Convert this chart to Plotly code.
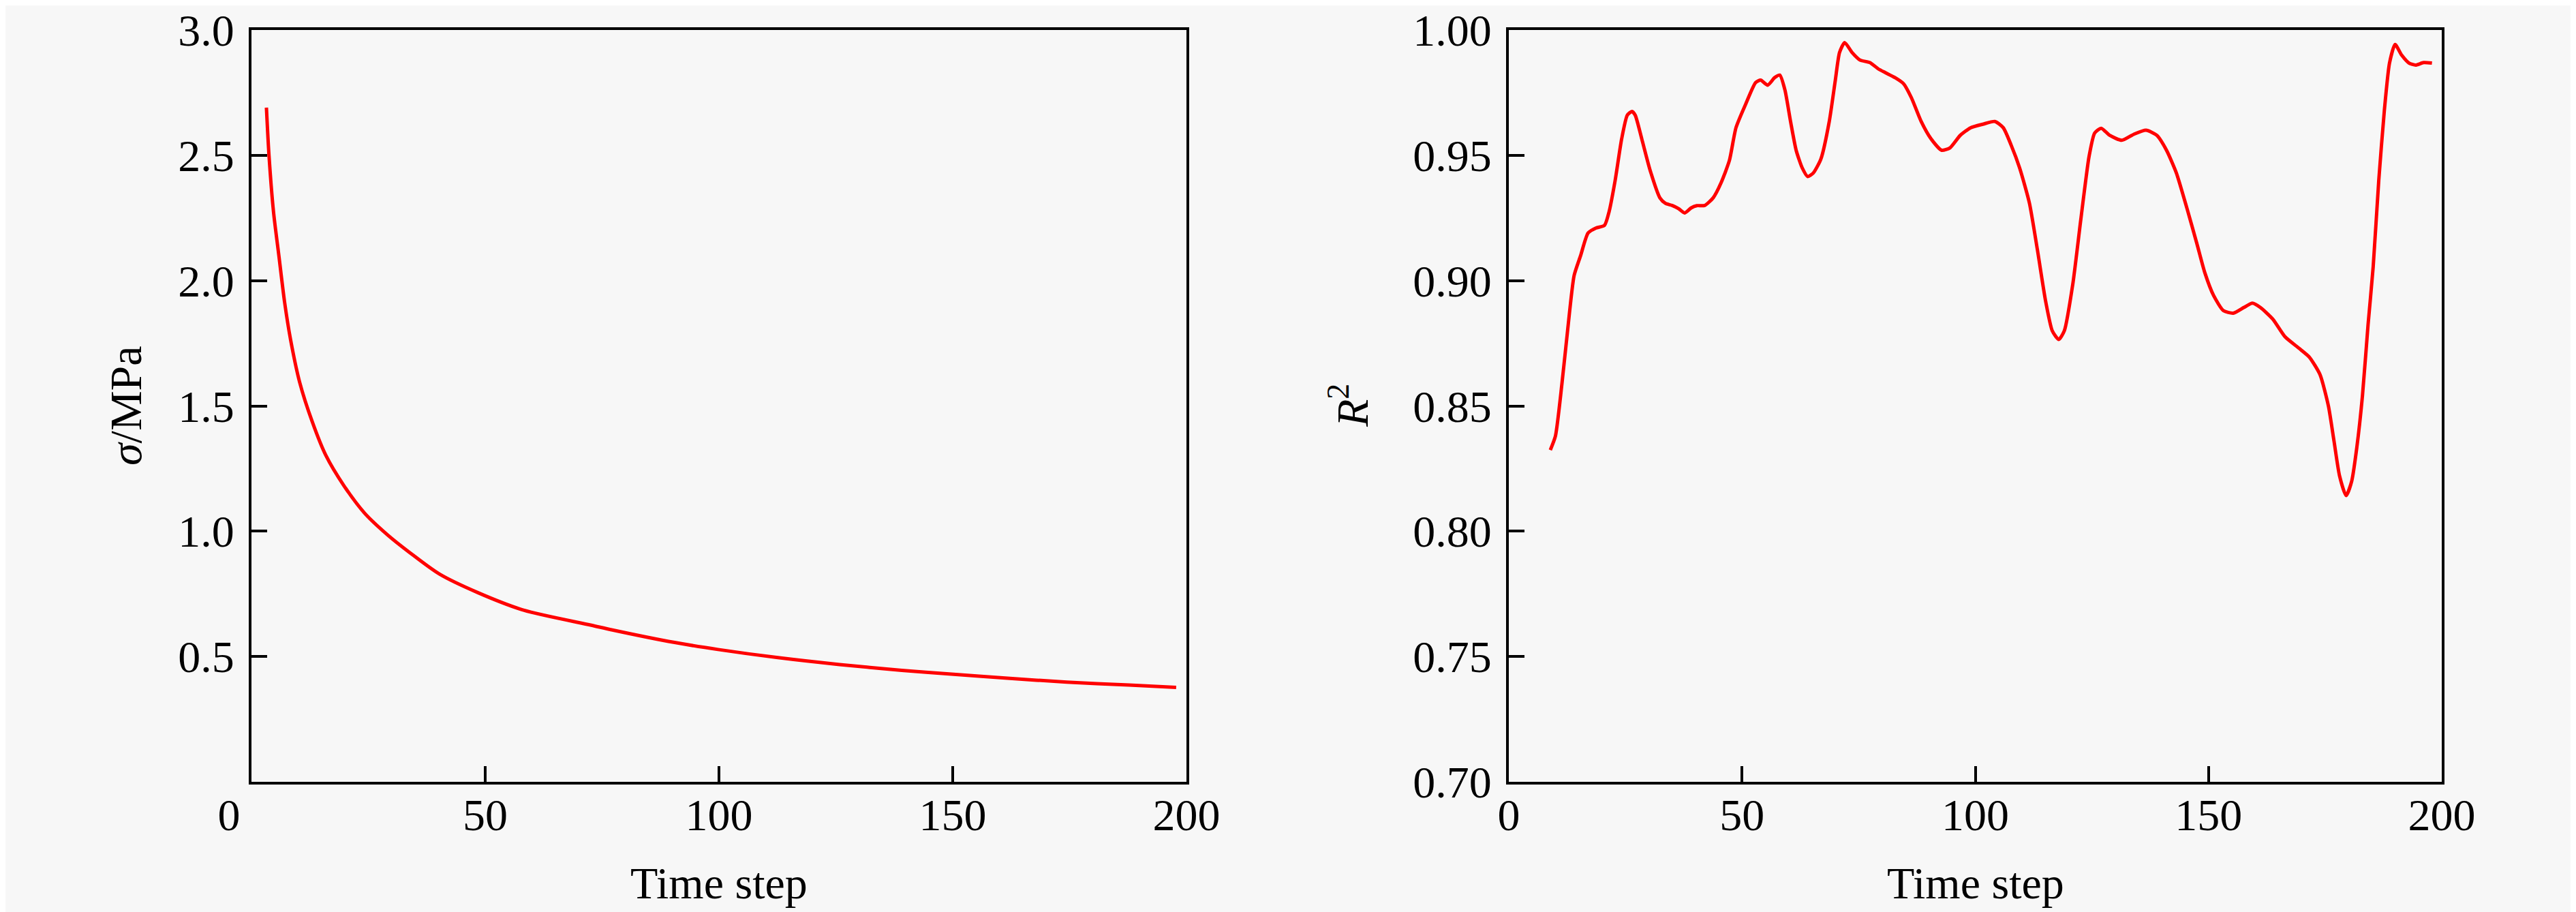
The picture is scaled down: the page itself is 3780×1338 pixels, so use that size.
import plotly.graph_objects as go

# ---- Left panel: sigma vs time step ----
sigma_step = [3.2, 3.75, 4.7, 5.9, 7.1, 8.35, 10.3, 13.0, 15.9, 19.8, 24.2, 29.0, 33.9,
              40.2, 48.4, 58.2, 72.7, 77.2, 90.5, 99.8, 112.6, 125.8, 139.1,
              149.7, 161.2, 174.4, 187.7, 197.8]
sigma_mpa = [2.69, 2.50, 2.277, 2.094, 1.912, 1.766, 1.595, 1.437, 1.303, 1.181, 1.072,
             0.987, 0.914, 0.829, 0.755, 0.685, 0.625, 0.606, 0.556, 0.528,
             0.4955, 0.468, 0.445, 0.430, 0.414, 0.398, 0.386, 0.377]

# ---- Right panel: R^2 vs time step ----
r2_step = [8.9, 10.0, 11.4, 12.6, 14.0, 15.4, 17.0, 18.7, 20.5, 21.5, 22.8, 24.2, 25.4,
           26.4, 27.1, 28.5, 30.3, 32.4, 33.6, 35.0, 36.4, 37.7, 39.1, 40.3, 42.0, 43.8,
           45.5, 47.3, 48.7, 50.8, 52.9, 54.0, 55.5, 57.0, 58.1, 59.2, 60.4, 61.6, 62.9,
           64.1, 65.3, 66.9, 68.7, 70.0, 70.9, 72.0, 73.6, 75.3, 77.4, 79.2, 80.7, 82.8,
           84.6, 86.3, 88.4, 90.5, 92.8, 94.6, 96.8, 99.0, 101.6, 104.2, 106.0, 107.7,
           109.5, 111.6, 113.3, 115.1, 116.5, 117.9, 119.1, 120.9, 122.6, 124.4, 125.6,
           127.0, 128.8, 131.4, 134.0, 136.6, 138.9, 141.0, 143.1, 145.4, 147.5, 149.2,
           151.1, 153.2, 155.3, 157.6, 159.4, 161.1, 163.8, 166.4, 169.4, 171.6, 173.9,
           175.7, 176.9, 178.1, 179.5, 180.7, 181.8, 183.0, 184.2, 185.3, 186.5, 187.7,
           188.8, 190.0, 191.4, 193.0, 194.4, 196.1, 197.9]
r2_value = [0.8324, 0.838, 0.859, 0.880, 0.902, 0.910, 0.919, 0.921, 0.922, 0.9275, 0.940,
            0.9566, 0.966, 0.9675, 0.966, 0.9566, 0.944, 0.933, 0.9308, 0.930, 0.9287,
            0.927, 0.929, 0.9299, 0.930, 0.933, 0.939, 0.948, 0.961, 0.9705, 0.979, 0.980,
            0.978, 0.981, 0.982, 0.976, 0.9635, 0.952, 0.945, 0.9415, 0.943, 0.9485,
            0.9635, 0.980, 0.991, 0.995, 0.991, 0.988, 0.987, 0.9845, 0.983, 0.981,
            0.9786, 0.973, 0.9635, 0.9566, 0.952, 0.953, 0.958, 0.961, 0.9624, 0.9635,
            0.961, 0.954, 0.945, 0.931, 0.9125, 0.8916, 0.880, 0.8765, 0.880, 0.8985,
            0.924, 0.9496, 0.9589, 0.9608, 0.958, 0.956, 0.9584, 0.960, 0.958, 0.952,
            0.943, 0.9287, 0.9148, 0.9032, 0.894, 0.888, 0.887, 0.8893, 0.891, 0.8893,
            0.8846, 0.8776, 0.873, 0.8695, 0.8625, 0.850, 0.836, 0.822, 0.8142, 0.820,
            0.8335, 0.854, 0.8823, 0.9055, 0.940, 0.968, 0.9868, 0.9942, 0.990, 0.9868,
            0.986, 0.987, 0.9868]

x_ticks = [0, 50, 100, 150, 200]
x_ticktext_left = ["0" + "\u00a0" * 4, "50", "100", "150", "200"]
x_ticktext_right = ["0", "50", "100", "150", "200"]
sigma_ticks = [0.5, 1.0, 1.5, 2.0, 2.5, 3.0]
sigma_ticktext = ["0.5", "1.0", "1.5", "2.0", "2.5", "3.0"]
r2_ticks = [0.70, 0.75, 0.80, 0.85, 0.90, 0.95, 1.00]
r2_ticktext = ["0.70", "0.75", "0.80", "0.85", "0.90", "0.95", "1.00"]

FONT = "Liberation Serif, Times New Roman, serif"
FS = 66
BG = "#f7f7f7"
W, H = 3780, 1338

fig = go.Figure()
fig.add_trace(go.Scatter(x=sigma_step, y=sigma_mpa, mode="lines",
                         line=dict(color="#ff0000", width=5, shape="spline", smoothing=0.8),
                         xaxis="x", yaxis="y", showlegend=False))
fig.add_trace(go.Scatter(x=r2_step, y=r2_value, mode="lines",
                         line=dict(color="#ff0000", width=5, shape="spline", smoothing=0.6),
                         xaxis="x2", yaxis="y2", showlegend=False))

ydom = [1 - 1139 / H, 1 - 36 / H]
common_axis = dict(showline=True, linecolor="black", linewidth=4, mirror=True,
                   ticks="inside", ticklen=23, tickwidth=4, tickcolor="black",
                   showgrid=False, zeroline=False, automargin=False,
                   tickfont=dict(family=FONT, size=FS, color="black"))

fig.update_layout(
    template="none",
    width=W, height=H,
    margin=dict(l=0, r=0, t=0, b=0, pad=0),
    paper_bgcolor=BG, plot_bgcolor=BG,
    font=dict(family=FONT, size=FS, color="black"),
    xaxis=dict(domain=[361 / W, 1733 / W], range=[0, 200], tickvals=x_ticks,
               ticktext=x_ticktext_left, anchor="y", ticklabelstandoff=-12, **common_axis),
    yaxis=dict(domain=ydom, range=[0, 3.0], tickvals=sigma_ticks, ticktext=sigma_ticktext,
               anchor="x", ticklabelstandoff=8, **common_axis),
    xaxis2=dict(domain=[2206 / W, 3575 / W], range=[0, 200], tickvals=x_ticks,
                ticktext=x_ticktext_right, anchor="y2", ticklabelstandoff=-12, **common_axis),
    yaxis2=dict(domain=ydom, range=[0.70, 1.00], tickvals=r2_ticks, ticktext=r2_ticktext,
                anchor="x2", ticklabelstandoff=8, **common_axis),
    annotations=[
        dict(text="Time step", x=(361 + 1733) / 2 / W, y=1 - 1287 / H, xref="paper", yref="paper",
             showarrow=False, xanchor="center", yanchor="middle",
             font=dict(family=FONT, size=FS, color="black")),
        dict(text="Time step", x=(2206 + 3575) / 2 / W, y=1 - 1287 / H, xref="paper", yref="paper",
             showarrow=False, xanchor="center", yanchor="middle",
             font=dict(family=FONT, size=FS, color="black")),
        dict(text="<i>σ</i>/MPa", x=176 / W, y=1 - 587 / H, xref="paper", yref="paper",
             showarrow=False, xanchor="center", yanchor="middle", textangle=-90,
             font=dict(family=FONT, size=FS, color="black")),
        dict(text="<i>R</i><sup>2</sup>", x=1971 / W, y=1 - 587 / H, xref="paper", yref="paper",
             showarrow=False, xanchor="center", yanchor="middle", textangle=-90,
             font=dict(family=FONT, size=FS, color="black")),
    ],
)

fig.write_html("out.html")
